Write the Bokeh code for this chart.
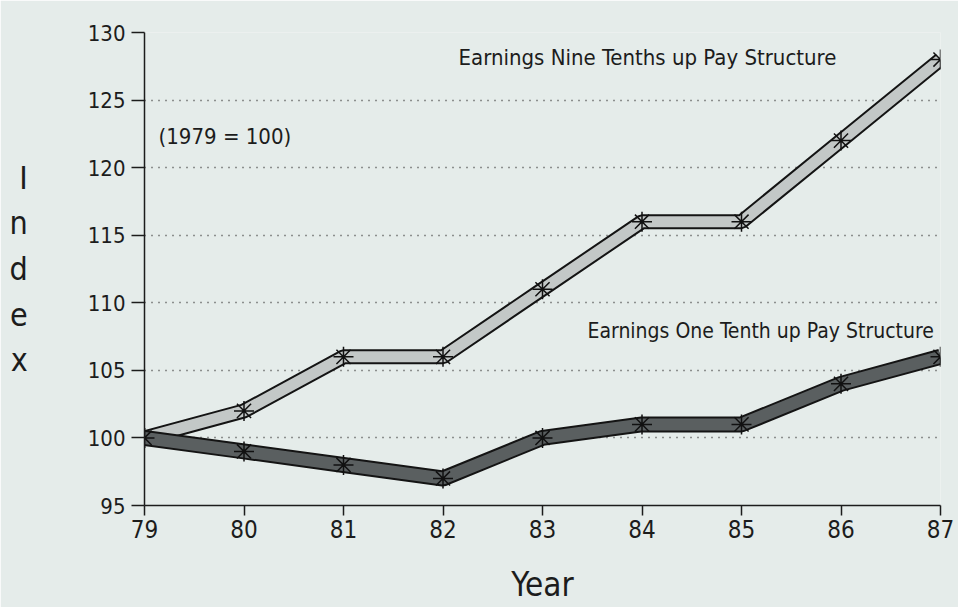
from bokeh.plotting import figure
from bokeh.models import Range1d, Label, FixedTicker, ColumnDataSource
from bokeh.embed import file_html
from bokeh.resources import INLINE

# ---- data ----
years = [79, 80, 81, 82, 83, 84, 85, 86, 87]
nine_tenths = [100, 102, 106, 106, 111, 116, 116, 122, 128]
one_tenth = [100, 99, 98, 97, 100, 101, 101, 104, 106]
y_ticks = [95, 100, 105, 110, 115, 120, 125, 130]
label_nine = "Earnings Nine Tenths up Pay Structure"
label_one = "Earnings One Tenth up Pay Structure"
base_note = "(1979 = 100)"
x_title = "Year"
y_title = "I\nn\nd\ne\nx"

BG = "#e5ecea"
FONT = "DejaVu Sans Condensed"
INK = "#1c1c1c"

src = ColumnDataSource(dict(x=years, hi=nine_tenths, lo=one_tenth))

p = figure(width=958, height=607, x_range=Range1d(79, 87), y_range=Range1d(95, 130),
           output_backend="svg", toolbar_location=None,
           min_border_left=144, min_border_right=18, min_border_top=32, min_border_bottom=102)
p.background_fill_color = BG
p.border_fill_color = BG
p.outline_line_color = None

# axes
p.xaxis.ticker = FixedTicker(ticks=years)
p.yaxis.ticker = FixedTicker(ticks=y_ticks)
for ax in (p.xaxis[0], p.yaxis[0]):
    ax.axis_line_color = INK
    ax.axis_line_width = 1.5
    ax.major_tick_line_color = INK
    ax.major_tick_line_width = 1.5
    ax.major_tick_in = 0
    ax.minor_tick_line_color = None
    ax.major_label_text_font = FONT
    ax.major_label_text_color = INK
    ax.axis_label_text_font = FONT
    ax.axis_label_text_font_style = "normal"
    ax.axis_label_text_color = INK
p.yaxis.major_label_text_font_size = "22px"
p.xaxis.major_label_text_font_size = "24px"
p.yaxis.major_tick_out = 13
p.yaxis.major_label_standoff = 6
p.xaxis.major_tick_out = 10
p.xaxis.major_label_standoff = 4
p.xaxis.axis_label = x_title
p.xaxis.axis_label_text_font_size = "33px"
p.xaxis.axis_label_standoff = 24
p.yaxis.axis_label = y_title
p.yaxis.axis_label_orientation = "horizontal"
p.yaxis.axis_label_text_font_size = "32px"
p.yaxis.axis_label_text_line_height = 1.2
p.yaxis.axis_label_standoff = 57

p.xgrid.visible = False
p.ygrid.grid_line_color = "#333333"
p.ygrid.grid_line_dash = "1 6"
p.ygrid.grid_line_width = 1.5

# upper band (light stipple)
p.line("x", "hi", source=src, line_color="#141414", line_width=15)
p.line("x", "hi", source=src, line_color="#c3c8c7", line_width=11)
p.scatter("x", "hi", source=src, marker="asterisk", size=20, line_color="#111111", line_width=1.5)

# lower band (dark)
p.line("x", "lo", source=src, line_color="#141414", line_width=16)
p.line("x", "lo", source=src, line_color="#5a5f60", line_width=12)
p.scatter("x", "lo", source=src, marker="asterisk", size=20, line_color="#111111", line_width=1.5)

# annotations
p.add_layout(Label(x=82.156, y=127.19, text=label_nine, text_font=FONT,
                   text_font_size="22px", text_color=INK))
p.add_layout(Label(x=79.141, y=121.41, text=base_note, text_font=FONT,
                   text_font_size="22px", text_color=INK))
p.add_layout(Label(x=83.452, y=107.06, text=label_one, text_font=FONT,
                   text_font_size="21px", text_color=INK))

open("out.html", "w").write(file_html(p, INLINE))
